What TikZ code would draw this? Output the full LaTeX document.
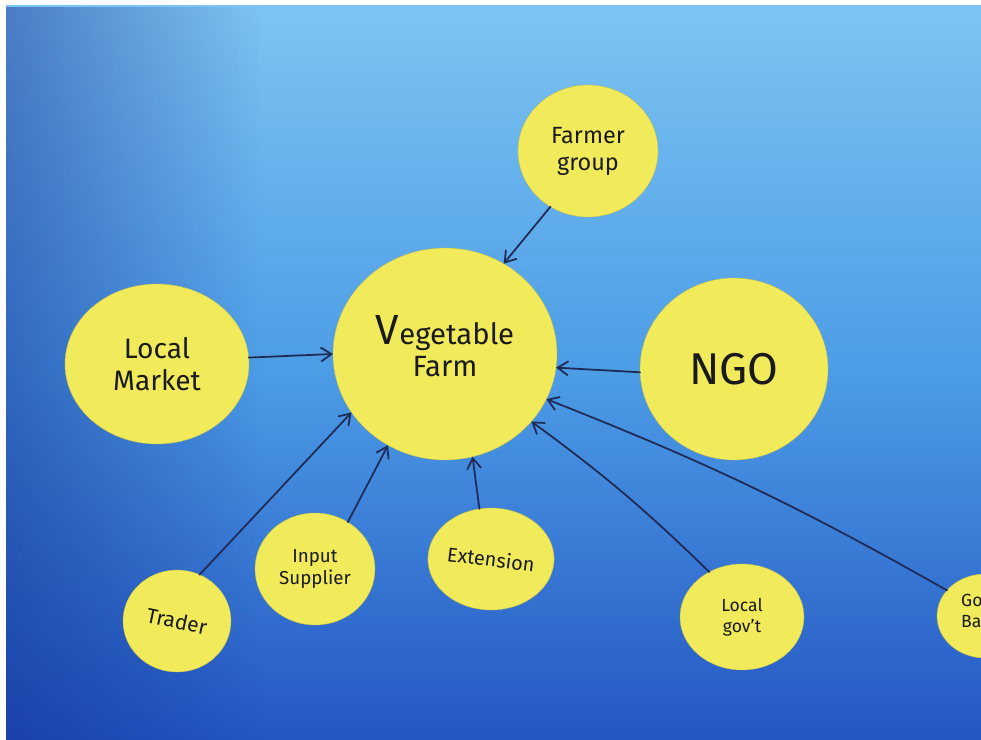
\documentclass[tikz,border=0pt]{standalone}
\usepackage{fontspec}
\setmainfont{Fira Sans}
\usetikzlibrary{shapes.geometric,arrows.meta,fadings}
\definecolor{skytop}{HTML}{7CC4F2}
\definecolor{skymid}{HTML}{4C9CE6}
\definecolor{skybot}{HTML}{2456C2}
\definecolor{shadow}{HTML}{10288E}
\definecolor{padyellow}{HTML}{F1EB5C}
\definecolor{marker}{HTML}{1A1A1A}
\definecolor{ink}{HTML}{1F2A55}
\begin{document}
\begin{tikzpicture}[x=0.03cm,y=-0.03cm,
    disk/.style 2 args={ellipse, fill=padyellow, draw=padyellow!80!black, line width=0.3pt,
      inner sep=0pt, outer sep=0pt, minimum width=#1*0.03cm, minimum height=#2*0.03cm,
      align=center, text=marker},
    link/.style={draw=ink, line width=1.5pt, line cap=round,
      -{Straight Barb[length=9pt,width=12pt,line width=1.5pt]}}]
    % Papier
    \useasboundingbox (0,0) rectangle (981,740);
    \fill[white] (0,0) rectangle (981,740);
    \shade[top color=skytop, bottom color=skybot, middle color=skymid] (6,6) rectangle (981,740);
    \fill[shadow, path fading=east, fill opacity=0.45] (6,6) rectangle (260,740);

    % Kreise
    \node[disk={224}{212}, font=\fontsize{25}{30}\selectfont] (farm) at (445,354)
      {\raisebox{14pt}{\shortstack{{\fontsize{36}{30}\selectfont V}egetable\\[2pt]Farm}}};
    \node[disk={140}{132}, font=\fontsize{20}{23}\selectfont] (fgroup) at (588,151) {Farmer\\group};
    \node[disk={184}{160}, font=\fontsize{24}{27}\selectfont] (market) at (157,364) {Local\\Market};
    \node[disk={188}{182}, font=\fontsize{38}{40}\selectfont] (ngo) at (734,369) {NGO};
    \node[disk={108}{102}, font=\fontsize{18}{20}\selectfont] (trader) at (177,621) {\rotatebox{-12}{Trader}};
    \node[disk={120}{112}, font=\fontsize{16}{19}\selectfont] (input) at (315,569) {Input\\Supplier};
    \node[disk={122}{102}, font=\fontsize{17}{19}\selectfont] (ext) at (491,559) {\rotatebox{-7}{Extension}};
    \node[disk={124}{106}, font=\fontsize{15}{18}\selectfont] (lgov) at (742,617) {Local\\gov't};
    \begin{scope}
      \clip (6,6) rectangle (981,740);
      \node[disk={96}{84}] (bank) at (985,616) {};
    \end{scope}
    \node[anchor=west, align=left, text=marker, inner sep=0pt, font=\fontsize{15}{18}\selectfont] (banktext) at (961,611)
      {Go\\Ba};

    % Pfeile
    \draw[link] (fgroup.236) -- (farm.57);
    \draw[link] (market.4) -- (farm.180);
    \draw[link] (ngo.182) -- (farm.353);
    \draw[link] (trader.64) -- (farm.212);
    \draw[link] (input.55) -- (farm.238);
    \draw[link] (ext.103) -- (farm.285);
    \draw[link] (lgov.126) to[bend right=4] (farm.322);
    \draw[link] (bank.146) to[bend right=4] (farm.336);
\end{tikzpicture}
\end{document}
